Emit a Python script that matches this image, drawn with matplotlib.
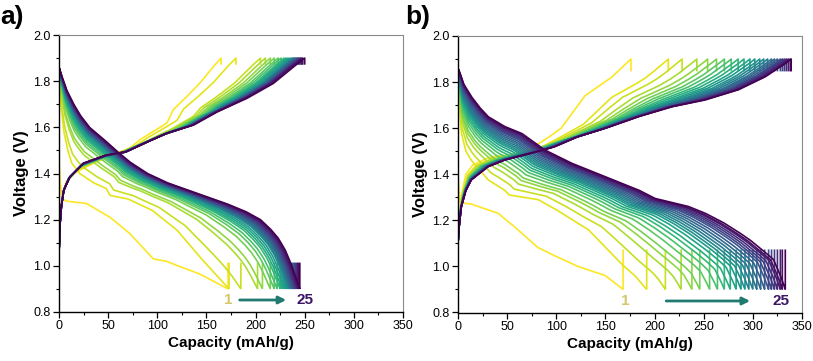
import numpy as np
import matplotlib
matplotlib.use('Agg')
import matplotlib.pyplot as plt
from matplotlib.ticker import MultipleLocator

plt.rcParams['font.family'] = ['Liberation Sans', 'DejaVu Sans']

cycles = list(range(1, 26))

# ---------------- Panel a ----------------
a_dis_cap = [172, 173, 185, 202, 207, 215, 219, 222, 225, 227, 229, 231, 233,
             234, 235, 236, 237, 238, 239, 240, 241, 242, 243, 244, 245]
a_chg_cap = [165, 180, 205, 210, 215, 219, 223, 226, 229, 231, 233, 235, 237,
             238, 239, 240, 241, 242, 243, 244, 245, 246, 247, 248, 250]
a_dis_rest = 1.01
a_chg_rest = 1.875
# first discharge (cycle 1)
a_d1_q = [0, 1, 3, 8, 28, 52, 72, 96, 109, 124, 143, 172]
a_d1_v = [1.46, 1.38, 1.29, 1.28, 1.27, 1.21, 1.14, 1.03, 1.02, 0.995, 0.965, 0.90]
# early discharge profile (cycle 2)
a_de_q = [0, 2, 5, 9, 13, 21, 35, 48, 52, 70, 95, 120, 143, 160, 173]
a_de_v = [1.85, 1.70, 1.58, 1.50, 1.445, 1.40, 1.36, 1.335, 1.305, 1.29, 1.24, 1.155, 1.04, 0.96, 0.90]
# mature discharge profile (cycle 25)
a_dm_q = [0, 3, 8, 15, 22, 31, 45, 58, 72, 90, 110, 130, 150, 170, 190, 205, 215, 223, 230, 236, 241, 245]
a_dm_v = [1.86, 1.82, 1.76, 1.70, 1.65, 1.60, 1.55, 1.50, 1.45, 1.40, 1.36, 1.33, 1.30, 1.27, 1.235,
          1.20, 1.16, 1.12, 1.07, 1.01, 0.95, 0.90]
# early charge profile (cycle 1)
a_ce_q = [0, 1, 3, 7, 15, 28, 45, 60, 72, 82, 93, 103, 110, 116, 130, 143, 157, 165]
a_ce_v = [1.08, 1.20, 1.30, 1.36, 1.40, 1.43, 1.465, 1.49, 1.51, 1.545, 1.575, 1.60, 1.62, 1.675,
          1.733, 1.79, 1.863, 1.90]
# mature charge profile (cycle 25)
a_cm_q = [0, 1, 2.5, 5, 11, 25, 48, 69, 89, 110, 137, 160, 191, 218, 238, 250]
a_cm_v = [1.05, 1.18, 1.26, 1.33, 1.385, 1.445, 1.48, 1.495, 1.535, 1.575, 1.61, 1.665, 1.725,
          1.79, 1.86, 1.90]

# ---------------- Panel b ----------------
b_dis_cap = [168, 192, 211, 227, 238, 246, 256, 264, 271, 277, 283, 288, 292,
             296, 300, 304, 308, 312, 316, 319, 322, 325, 328, 330, 333]
b_chg_cap = [176, 214, 228, 243, 254, 263, 271, 278, 285, 291, 297, 302, 307,
             311, 315, 319, 322, 325, 328, 330, 332, 334, 336, 338, 339]
b_dis_rest = 1.07
b_chg_rest = 1.85
b_d1_q = [0, 1, 2, 5, 14, 41, 58, 81, 98, 122, 150, 168]
b_d1_v = [1.40, 1.33, 1.28, 1.275, 1.27, 1.23, 1.17, 1.083, 1.047, 1.0, 0.96, 0.90]
b_de_q = [0, 1, 3.4, 8, 13.6, 30.6, 47.6, 52, 81.5, 98.5, 132.5, 166.5, 180, 192]
b_de_v = [1.85, 1.72, 1.58, 1.50, 1.46, 1.376, 1.33, 1.31, 1.29, 1.25, 1.16, 1.01, 0.96, 0.90]
b_dm_q = [0, 2, 6, 13.6, 22, 30.6, 47.6, 64.6, 88, 115.5, 149.5, 183.5, 200.5, 234.5, 251.4,
          270, 285, 297, 310, 321, 329, 333]
b_dm_v = [1.86, 1.84, 1.79, 1.737, 1.69, 1.65, 1.607, 1.578, 1.506, 1.448, 1.39, 1.332, 1.295,
          1.26, 1.231, 1.19, 1.15, 1.115, 1.07, 1.03, 0.95, 0.90]
b_ce_q = [0, 1, 3, 8, 15, 30, 40, 50, 70, 92, 105, 129, 156, 176]
b_ce_v = [1.10, 1.20, 1.30, 1.40, 1.44, 1.47, 1.48, 1.48, 1.50, 1.56, 1.60, 1.74, 1.82, 1.90]
b_cm_q = [0, 1, 3.4, 8, 13.6, 30.6, 47.6, 81.5, 98.5, 122, 149.5, 183.5, 217.5, 251, 285,
          312.6, 333, 339]
b_cm_v = [1.10, 1.17, 1.26, 1.33, 1.376, 1.433, 1.462, 1.499, 1.52, 1.563, 1.599, 1.65, 1.693,
          1.722, 1.766, 1.823, 1.88, 1.90]

x_ticks = [0, 50, 100, 150, 200, 250, 300, 350]
y_ticks = [0.8, 1.0, 1.2, 1.4, 1.6, 1.8, 2.0]

colors = plt.cm.viridis_r(np.linspace(0, 1, len(cycles)))


def blend(cap, cap_e, cap_m, qe, ve, qm, vm):
    qe = np.asarray(qe, float); ve = np.asarray(ve, float)
    qm = np.asarray(qm, float); vm = np.asarray(vm, float)
    w = np.clip((cap - cap_e) / (cap_m - cap_e), 0, 1)
    f = np.linspace(0, 1, 400)
    v = (1 - w) * np.interp(f, qe / qe[-1], ve) + w * np.interp(f, qm / qm[-1], vm)
    return f * cap, v


def draw_panel(ax, dis_cap, chg_cap, d1q, d1v, deq, dev, dmq, dmv, ceq, cev, cmq, cmv,
               dis_rest, chg_rest):
    for i, c in enumerate(cycles):
        col = colors[i]
        if i == 0:
            q = np.asarray(d1q, float) * dis_cap[0] / d1q[-1]
            v = np.asarray(d1v, float)
        else:
            q, v = blend(dis_cap[i], dis_cap[1], dis_cap[-1], deq, dev, dmq, dmv)
        q = np.append(q, dis_cap[i]); v = np.append(v, dis_rest)
        ax.plot(q, v, color=col, lw=1.2, solid_joinstyle='miter')
        q, v = blend(chg_cap[i], chg_cap[0], chg_cap[-1], ceq, cev, cmq, cmv)
        q = np.append(q, chg_cap[i]); v = np.append(v, chg_rest)
        ax.plot(q, v, color=col, lw=1.2)

    ax.set_xlim(0, 350)
    ax.set_ylim(0.8, 2.0)
    ax.set_xticks(x_ticks)
    ax.set_yticks(y_ticks)
    ax.set_yticklabels([f'{t:.1f}' for t in y_ticks])
    ax.xaxis.set_minor_locator(MultipleLocator(25))
    ax.yaxis.set_minor_locator(MultipleLocator(0.1))
    ax.tick_params(which='major', direction='out', length=4, width=0.9, labelsize=9,
                   pad=2, top=False, right=False)
    ax.tick_params(which='minor', direction='out', length=2.5, width=0.8, top=False, right=False)
    for s in ['left', 'bottom']:
        ax.spines[s].set_color('black'); ax.spines[s].set_linewidth(1.0)
    for s in ['top', 'right']:
        ax.spines[s].set_color('#8a8a8a'); ax.spines[s].set_linewidth(0.8)
    ax.set_xlabel('Capacity (mAh/g)', fontsize=11, fontweight='bold', labelpad=3)
    ax.set_ylabel('Voltage (V)', fontsize=12, fontweight='bold', labelpad=3)


fig = plt.figure(figsize=(8.13, 3.61), dpi=100)
ax_a = fig.add_axes([59 / 813, 1 - 312 / 361, 344 / 813, 277 / 361])
ax_b = fig.add_axes([458 / 813, 1 - 312.5 / 361, 344 / 813, 276.5 / 361])

draw_panel(ax_a, a_dis_cap, a_chg_cap, a_d1_q, a_d1_v, a_de_q, a_de_v, a_dm_q, a_dm_v,
           a_ce_q, a_ce_v, a_cm_q, a_cm_v, a_dis_rest, a_chg_rest)
draw_panel(ax_b, b_dis_cap, b_chg_cap, b_d1_q, b_d1_v, b_de_q, b_de_v, b_dm_q, b_dm_v,
           b_ce_q, b_ce_v, b_cm_q, b_cm_v, b_dis_rest, b_chg_rest)

first_col = '#d5c86a'
last_col = '#3d1466'
arrow_col = '#217a70'

ax_a.text(172, 0.852, '1', color=first_col, fontsize=11, fontweight='bold', ha='center', va='center')
ax_a.annotate('', xy=(234, 0.852), xytext=(181, 0.852),
              arrowprops=dict(arrowstyle='-|>', color=arrow_col, lw=2, mutation_scale=11))
ax_a.text(250, 0.852, '25', color=last_col, fontsize=11, fontweight='bold', ha='center', va='center')

ax_b.text(170, 0.85, '1', color=first_col, fontsize=11, fontweight='bold', ha='center', va='center')
ax_b.annotate('', xy=(300, 0.85), xytext=(209, 0.85),
              arrowprops=dict(arrowstyle='-|>', color=arrow_col, lw=2, mutation_scale=11))
ax_b.text(329, 0.85, '25', color=last_col, fontsize=11, fontweight='bold', ha='center', va='center')

fig.text(0.0, 1 - 17 / 361, 'a)', fontsize=19, fontweight='bold', va='center', ha='left')
fig.text(405 / 813, 1 - 17 / 361, 'b)', fontsize=19, fontweight='bold', va='center', ha='left')

fig.savefig('out.png', dpi=100)
